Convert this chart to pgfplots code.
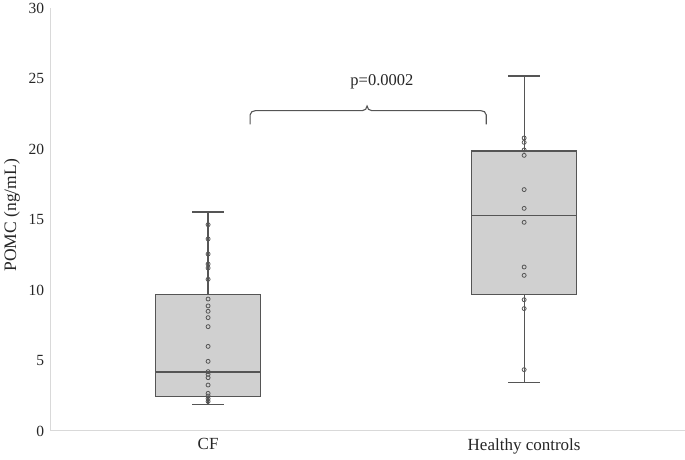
\documentclass[border=0pt]{standalone}
\usepackage{fontspec}
\setmainfont{Liberation Serif}
\usepackage{pgfplots}
\pgfplotsset{compat=1.18}
\usepgfplotslibrary{statistics}
\definecolor{boxfill}{HTML}{D0D0D0}
\definecolor{boxline}{HTML}{555555}
\definecolor{axline}{HTML}{D9D9D9}
\definecolor{txt}{HTML}{262626}

\begin{document}
\begin{tikzpicture}
\useasboundingbox (-50.7pt,-29pt) rectangle (634.3pt,431pt);
\begin{axis}[
  at={(0,0)},anchor=south west,
  width=634.3pt,height=423pt,scale only axis,
  xmin=0.502,xmax=2.509,ymin=0,ymax=30,
  axis lines=left,axis line style={axline,line width=1pt,-},
  xtick={1,2},xticklabels={CF,Healthy controls},
  ytick={0,5,...,30},
  major tick length=0pt,
  tick label style={txt},
  yticklabel style={font=\fontsize{15.5}{18}\selectfont,xshift=-3pt},
  xticklabel style={font=\fontsize{17}{20}\selectfont,yshift=-4pt},
  /pgf/number format/assume math mode=true,
  ylabel={POMC (ng/mL)},
  every axis y label/.style={at={(axis description cs:-0.061,0.51)},rotate=90,anchor=center,
    font=\fontsize{17.5}{20}\selectfont,txt},
  clip=false,
  boxplot/draw direction=y,
]
\addplot[draw=boxline,fill=boxfill,line width=1.2pt,
  boxplot prepared={lower whisker=1.87,lower quartile=2.43,median=4.18,
    upper quartile=9.69,upper whisker=15.53,draw position=1,
    box extend=0.332,whisker extend=0.1}] coordinates {};
\addplot[draw=boxline,fill=boxfill,line width=1.2pt,
  boxplot prepared={lower whisker=3.45,lower quartile=9.69,median=15.27,
    upper quartile=19.86,upper whisker=25.18,draw position=2,
    box extend=0.332,whisker extend=0.1}] coordinates {};
\addplot[only marks,mark=o,mark size=2pt,mark options={draw=boxline,line width=0.8pt,fill=boxfill}] coordinates {
  (1,14.63)(1,13.62)(1,12.55)(1,11.84)(1,11.56)(1,10.76)(1,9.36)(1,8.87)
  (1,8.49)(1,8.04)(1,7.40)(1,6.00)(1,4.94)(1,4.21)(1,4.02)(1,3.78)
  (1,3.26)(1,2.67)(1,2.48)(1,2.29)(1,2.10)};
\addplot[only marks,mark=o,mark size=2pt,mark options={draw=boxline,line width=0.8pt,fill=boxfill}] coordinates {
  (2,20.78)(2,20.47)(2,19.93)(2,19.55)(2,17.12)(2,15.79)(2,14.80)
  (2,11.63)(2,11.04)(2,9.31)(2,8.68)(2,4.35)};
\draw[boxline,line width=1.1pt] (axis cs:1.133,21.75) -- (axis cs:1.133,22.42)
  to[out=90,in=180] (axis cs:1.150,22.72) -- (axis cs:1.488,22.72)
  to[out=0,in=-90] (axis cs:1.503,23.05) to[out=-90,in=180] (axis cs:1.518,22.72)
  -- (axis cs:1.863,22.72) to[out=0,in=90] (axis cs:1.880,22.42) -- (axis cs:1.880,21.75);
\node[txt,font=\fontsize{16.5}{20}\selectfont] at (axis cs:1.550,24.75) {p=0.0002};
\end{axis}
\end{tikzpicture}
\end{document}
